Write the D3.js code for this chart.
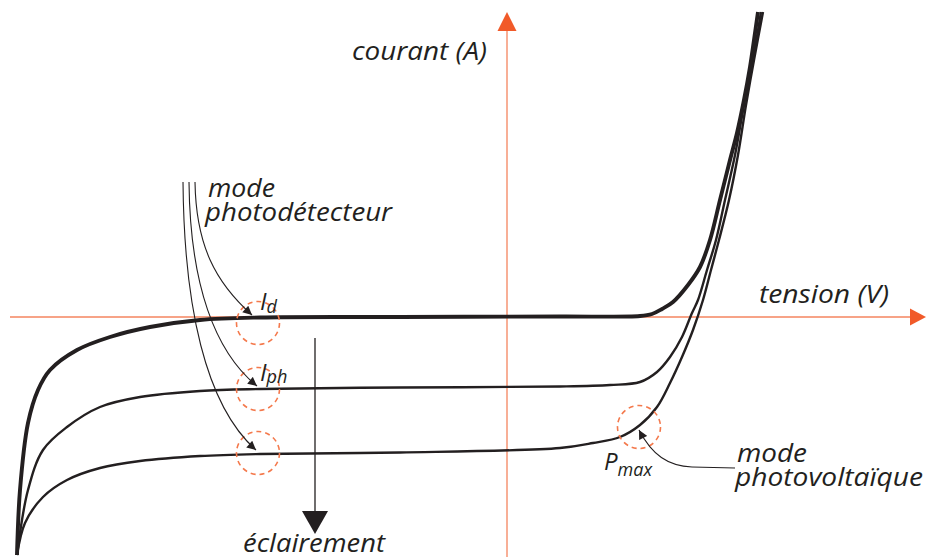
<!DOCTYPE html>
<html>
<head>
<meta charset="utf-8">
<script src="https://cdn.jsdelivr.net/npm/d3@7"></script>
<style>
  html, body { margin: 0; padding: 0; background: #fff; }
  svg { display: block; }
  text { font-family: "Open Sans", sans-serif; font-style: italic; fill: #231f20; }
</style>
</head>
<body>
<svg id="chart" width="926" height="557"></svg>
<script>
// I-V curves of a photodiode (V, I) in arbitrary units
// dark curve (no light)
const curveDark = [
  [-49, -23.8], [-48.7, -17.3], [-47.9, -10.6], [-46.9, -7.3], [-45.7, -5.3],
  [-43, -3.3], [-39.7, -2.0], [-35.7, -1.0], [-30.7, -0.3], [-24.7, -0.05],
  [-10.7, 0], [5.3, 0.05], [13.3, 0.1], [14.5, 0.3], [15.5, 0.8], [16.6, 1.5],
  [18.1, 3.2], [19.3, 5.0], [20.3, 7.7], [21.3, 11.7], [22.3, 15.7],
  [23.0, 18.4], [23.7, 21.7], [24.3, 25.0], [24.7, 27.7], [25.1, 30.5]
];
// lit, medium
const curveMid = [
  [-49, -23.8], [-47.9, -17.3], [-46.4, -13.3], [-44, -11.0], [-40.7, -9.0],
  [-36.7, -8.0], [-30.7, -7.4], [-24.7, -7.2], [-10.7, -7.05], [5.3, -6.95],
  [10.3, -6.8], [13.3, -6.5], [15.0, -5.5], [16.3, -4.0], [17.5, -2.0],
  [18.5, 0.4], [19.1, 1.7], [20.0, 4.7], [20.9, 7.7], [21.8, 11.7],
  [22.8, 16.2], [23.7, 21.2], [24.6, 25.7], [25.4, 30.5]
];
// lit, strong
const curveLow = [
  [-49, -23.8], [-48.2, -20.6], [-46.4, -18.0], [-44, -16.3], [-40.7, -15.1],
  [-36.7, -14.4], [-30.7, -13.9], [-24.7, -13.7], [-10.7, -13.55], [5.3, -13.1],
  [8.6, -12.6], [11.3, -12.0], [13.3, -10.8], [15.0, -9.0], [16.3, -6.6],
  [17.5, -4.0], [18.6, -1.3], [19.6, 1.7], [20.4, 4.7], [21.2, 7.7],
  [22.2, 11.7], [23.1, 16.2], [23.9, 21.2], [24.7, 25.7], [25.6, 30.5]
];
// points that are circled: Id, Iph, third curve, Pmax
const circled = [[-24.9, -0.6], [-24.9, -7.2], [-24.9, -13.6], [13.2, -11.0]];

const W = 926, H = 557;
const ink = '#231f20';
const orange = '#f15a29';

const svg = d3.select('#chart');

const x = d3.scaleLinear().domain([-50, 42]).range([7, 927]);
const y = d3.scaleLinear().domain([-24, 31]).range([557, 7]);

const defs = svg.append('defs');
defs.append('marker')
  .attr('id', 'ah')
  .attr('viewBox', '0 0 10 10')
  .attr('refX', 10).attr('refY', 5)
  .attr('markerWidth', 11).attr('markerHeight', 9)
  .attr('markerUnits', 'userSpaceOnUse')
  .attr('orient', 'auto')
  .append('path').attr('d', 'M0,0 L10,5 L0,10 Z').attr('fill', ink);

// axes
svg.append('line')
  .attr('x1', x(-49.7)).attr('x2', x(40.4))
  .attr('y1', y(0)).attr('y2', y(0))
  .attr('stroke', '#f4845f').attr('stroke-width', 1.3);
svg.append('path')
  .attr('d', `M${x(40.3)},${y(0) - 8.5} L${W},${y(0)} L${x(40.3)},${y(0) + 8.5} Z`)
  .attr('fill', orange);

svg.append('line')
  .attr('x1', x(0)).attr('x2', x(0))
  .attr('y1', H).attr('y2', y(28.6))
  .attr('stroke', '#f4845f').attr('stroke-width', 1.3);
svg.append('path')
  .attr('d', `M${x(0) - 9.5},${y(28.6)} L${x(0)},12 L${x(0) + 9.5},${y(28.6)} Z`)
  .attr('fill', orange);

// curves
const line = d3.line()
  .x(d => x(d[0]))
  .y(d => y(d[1]))
  .curve(d3.curveCatmullRom.alpha(0.5));

svg.append('path').datum(curveLow).attr('d', line)
  .attr('fill', 'none').attr('stroke', ink).attr('stroke-width', 2.4);
svg.append('path').datum(curveMid).attr('d', line)
  .attr('fill', 'none').attr('stroke', ink).attr('stroke-width', 2.4);
svg.append('path').datum(curveDark).attr('d', line)
  .attr('fill', 'none').attr('stroke', ink).attr('stroke-width', 3.9);

// dashed circles
svg.selectAll('.ring')
  .data(circled)
  .enter().append('circle')
  .attr('class', 'ring')
  .attr('cx', d => x(d[0]))
  .attr('cy', d => y(d[1]))
  .attr('r', 21.5)
  .attr('fill', 'none')
  .attr('stroke', '#f4794c')
  .attr('stroke-width', 1.6)
  .attr('stroke-dasharray', '5,4');

// "mode photodétecteur" / "mode photovoltaïque" pointers
const pointers = [
  'M195,182 C196,245 215,282 252,315',
  'M189,182 C190,285 215,352 257,386',
  'M183,182 C184,305 205,405 256,450',
  'M735,468 L692,467 C668,466 652,455 639,430'
];
svg.selectAll('.ptr')
  .data(pointers)
  .enter().append('path')
  .attr('class', 'ptr')
  .attr('d', d => d)
  .attr('fill', 'none')
  .attr('stroke', ink)
  .attr('stroke-width', 1.1)
  .attr('marker-end', 'url(#ah)');

// illumination arrow
svg.append('line')
  .attr('x1', 315).attr('x2', 315)
  .attr('y1', 338).attr('y2', 514)
  .attr('stroke', ink).attr('stroke-width', 1.3);
svg.append('path')
  .attr('d', 'M302,511 L328,511 L315,534 Z')
  .attr('fill', ink);

// texts
const txt = (s, tx, ty, size, len) => {
  const t = svg.append('text')
    .attr('x', tx).attr('y', ty)
    .attr('font-size', size)
    .text(s);
  if (len) t.attr('textLength', len).attr('lengthAdjust', 'spacingAndGlyphs');
  return t;
};

txt('courant (A)', 352, 60, 26, 135);
txt('tension (V)', 759, 303, 26, 130);
txt('mode', 208, 197, 26, 67);
txt('photodétecteur', 205, 221, 26, 187);
txt('mode', 737, 462, 26, 70);
txt('photovoltaïque', 735, 486, 26, 188);
txt('éclairement', 243, 552, 26, 142);

// Id, Iph, Pmax
const sub = (main, s, tx, ty, dy) => {
  const t = svg.append('text').attr('x', tx).attr('y', ty).attr('font-size', 24);
  t.append('tspan').text(main);
  t.append('tspan').attr('font-size', 18).attr('dy', dy).text(s);
};
sub('I', 'd', 260, 310, 3);
sub('I', 'ph', 260, 381, 2);
sub('P', 'max', 604, 470, 6);
</script>
</body>
</html>
